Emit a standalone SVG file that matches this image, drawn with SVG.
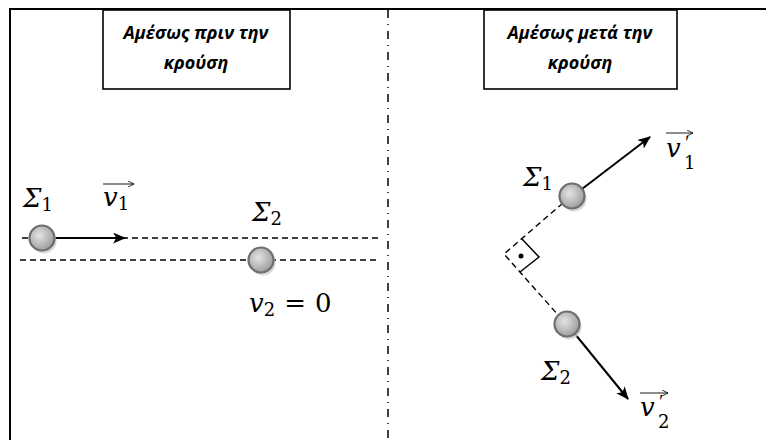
<svg xmlns="http://www.w3.org/2000/svg" width="766" height="440" viewBox="0 0 766 440">
<defs>
<radialGradient id="ballg" cx="0.4" cy="0.4" r="0.65">
<stop offset="0" stop-color="#e4e4e4"/>
<stop offset="1" stop-color="#9a9a9a"/>
</radialGradient>
<marker id="ah" viewBox="0 0 12 10" refX="11" refY="5" markerWidth="13" markerHeight="11" markerUnits="userSpaceOnUse" orient="auto">
<path d="M0,0 L12,5 L0,10 L3,5 Z" fill="#000"/>
</marker>
<marker id="sa" viewBox="0 0 6 6" refX="6" refY="3" markerWidth="6" markerHeight="6" markerUnits="userSpaceOnUse" orient="auto">
<path d="M0,0 L6,3 L0,6" fill="none" stroke="#000" stroke-width="0.8"/>
</marker>
<g id="ball">
<circle cx="2" cy="3" r="12.5" fill="#cfcfcf" opacity="0.8"/>
<circle cx="0" cy="0" r="12.5" fill="url(#ballg)" stroke="#6e6e6e" stroke-width="2.2"/>
</g>
</defs>
<style>
.frame{stroke:#000;stroke-width:2;fill:none}
.box{fill:#fff;stroke:#000;stroke-width:1.6}
.title{font-family:"Open Sans","Noto Sans",sans-serif;font-style:italic;font-weight:bold;font-size:18px;text-anchor:middle;fill:#000}
.dash{stroke:#000;stroke-width:1.4;stroke-dasharray:6 4;fill:none}
.dashdot{stroke:#000;stroke-width:1.5;stroke-dasharray:8 6 1 6;fill:none}
.vec{stroke:#000;stroke-width:2;fill:none}
.over{stroke:#000;stroke-width:0.9;fill:none}
.m{font-family:"DejaVu Serif","Liberation Serif",serif;font-style:italic;font-size:26px;fill:#000}
.s{font-family:"DejaVu Serif","Liberation Serif",serif;font-style:normal;font-size:18px}
.p{font-family:"Liberation Serif","DejaVu Serif",serif;font-style:italic;font-size:19px;fill:#000}
.r{font-family:"DejaVu Serif","Liberation Serif",serif;font-style:normal;font-size:26px}
</style>

<g id="frame">
<path class="frame" d="M10,440 L10,9 L766,9"/>
<path class="dashdot" d="M388,10 L388,440"/>
</g>

<g id="title-before">
<rect class="box" x="103" y="10" width="187" height="79"/>
<text class="title" x="196" y="39">Αμέσως πριν την</text>
<text class="title" x="196" y="69">κρούση</text>
</g>
<g id="title-after">
<rect class="box" x="484" y="10" width="193" height="79"/>
<text class="title" x="580" y="39">Αμέσως μετά την</text>
<text class="title" x="580" y="69">κρούση</text>
</g>

<g id="connectors">
<path class="dash" d="M22,238 L378,238"/>
<path class="dash" d="M20,260 L377,260"/>
<path class="vec" d="M53,238 L125,238" marker-end="url(#ah)"/>
<path class="dash" d="M563,203 L504,254 L559,316"/>
<path stroke="#000" stroke-width="1.5" fill="none" d="M522,239 L539,257 L520,272"/>
<path class="vec" d="M582,189 L650,137" marker-end="url(#ah)"/>
<path class="vec" d="M575,334 L628,399" marker-end="url(#ah)"/>
</g>

<g id="ball-s1-before"><use href="#ball" x="42" y="238"/></g>
<g id="ball-s2-before"><use href="#ball" x="261" y="260"/></g>
<g id="ball-s1-after"><use href="#ball" x="572" y="196"/></g>
<g id="ball-s2-after"><use href="#ball" x="567" y="324"/></g>
<circle cx="521" cy="256" r="2.5" fill="#000"/>

<g id="labels">
<text class="m" x="23" y="207">Σ<tspan class="s" dy="4">1</tspan></text>
<text class="m" x="103" y="206">v<tspan class="s" dy="4">1</tspan></text>
<path class="over" d="M103,184 L134,184" marker-end="url(#sa)"/>
<text class="m" x="252" y="221">Σ<tspan class="s" dy="4">2</tspan></text>
<text class="m" x="249" y="312">v<tspan class="s" dy="4">2</tspan><tspan class="r" dx="9" dy="-4">=</tspan><tspan class="r" dx="9">0</tspan></text>

<text class="m" x="666" y="157">v</text>
<text class="p" x="684" y="149">′</text>
<text class="s" x="684" y="169">1</text>
<path class="over" d="M666,133 L693,133" marker-end="url(#sa)"/>
<text class="m" x="523" y="186">Σ<tspan class="s" dy="4">1</tspan></text>
<text class="m" x="541" y="380">Σ<tspan class="s" dy="4">2</tspan></text>
<text class="m" x="640" y="416">v</text>
<text class="p" x="658" y="408">′</text>
<text class="s" x="658" y="428">2</text>
<path class="over" d="M640,393 L668,393" marker-end="url(#sa)"/>
</g>
</svg>
